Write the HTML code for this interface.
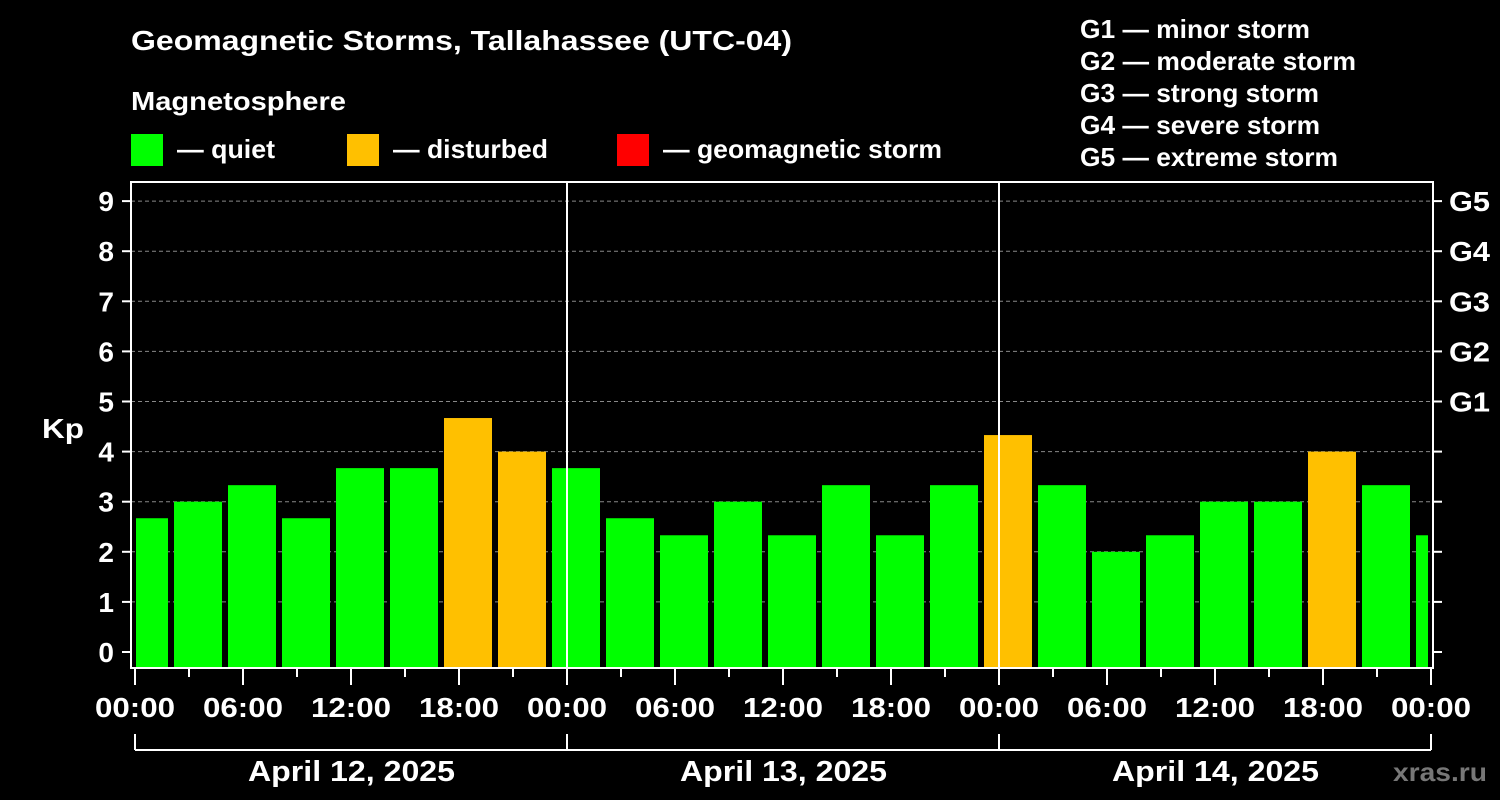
<!DOCTYPE html>
<html><head><meta charset="utf-8"><style>
body{margin:0;background:#000;}
svg{display:block;font-family:"Liberation Sans",Arial,sans-serif;font-weight:bold;}
</style></head><body>
<svg id="c" width="1500" height="800" xmlns="http://www.w3.org/2000/svg">
<rect width="1500" height="800" fill="#000"/>
<text x="131" y="50" fill="#fff" font-size="28" textLength="661" lengthAdjust="spacingAndGlyphs">Geomagnetic Storms, Tallahassee (UTC-04)</text>
<text x="131" y="110" fill="#fff" font-size="26" textLength="215" lengthAdjust="spacingAndGlyphs">Magnetosphere</text>
<g><rect x="131" y="134" width="32" height="32" fill="#00ff00"/><text x="177" y="158" fill="#fff" font-size="26" textLength="98" lengthAdjust="spacingAndGlyphs">— quiet</text></g>
<g><rect x="347" y="134" width="32" height="32" fill="#ffc000"/><text x="393" y="158" fill="#fff" font-size="26" textLength="155" lengthAdjust="spacingAndGlyphs">— disturbed</text></g>
<g><rect x="617" y="134" width="32" height="32" fill="#ff0000"/><text x="663" y="158" fill="#fff" font-size="26" textLength="279" lengthAdjust="spacingAndGlyphs">— geomagnetic storm</text></g>
<g fill="#fff" font-size="26">
<text x="1080" y="38" textLength="230" lengthAdjust="spacingAndGlyphs">G1 — minor storm</text>
<text x="1080" y="70" textLength="276" lengthAdjust="spacingAndGlyphs">G2 — moderate storm</text>
<text x="1080" y="102" textLength="239" lengthAdjust="spacingAndGlyphs">G3 — strong storm</text>
<text x="1080" y="134" textLength="240" lengthAdjust="spacingAndGlyphs">G4 — severe storm</text>
<text x="1080" y="166" textLength="258" lengthAdjust="spacingAndGlyphs">G5 — extreme storm</text>
</g>
<text x="42" y="438" fill="#fff" font-size="28" textLength="42" lengthAdjust="spacingAndGlyphs">Kp</text>
<text x="1393" y="781" fill="#777" font-size="26" textLength="94" lengthAdjust="spacingAndGlyphs">xras.ru</text>
<defs><clipPath id="pc"><rect x="136" y="182" width="1292" height="486"/></clipPath></defs>
<g id="grid"></g>
<g id="bars" clip-path="url(#pc)"></g>
<g id="axes"></g>
</svg>
<script>
const kpValues=[2.67,3.0,3.33,2.67,3.67,3.67,4.67,4.0,3.67,2.67,2.33,3.0,2.33,3.33,2.33,3.33,4.33,3.33,2.0,2.33,3.0,3.0,4.0,3.33,2.33];
const yTicks=[0,1,2,3,4,5,6,7,8,9];
const gLabels=["G1","G2","G3","G4","G5"];
const xTickLabels=["00:00","06:00","12:00","18:00","00:00","06:00","12:00","18:00","00:00","06:00","12:00","18:00","00:00"];
const dayLabels=["April 12, 2025","April 13, 2025","April 14, 2025"];
const NS="http://www.w3.org/2000/svg";
const X0=135,PXH=18,Y0=652,PXK=50.1,LEFT=131,RIGHT=1433,TOP=182,BOT=668;
const xs=h=>X0+h*PXH, ys=k=>Y0-k*PXK;
function mk(tag,attrs,parent){const e=document.createElementNS(NS,tag);for(const k in attrs)e.setAttribute(k,attrs[k]);document.getElementById(parent).appendChild(e);return e;}
yTicks.forEach(v=>{
 if(v>0){const l=mk('line',{x1:LEFT,x2:RIGHT,y1:ys(v),y2:ys(v),stroke:'#888','stroke-dasharray':'4,3','stroke-width':1},'grid');
 
 }
 const t=mk('text',{x:114,y:ys(v)+10,fill:'#fff','font-size':28,'text-anchor':'end'},'axes');t.textContent=v;
 
 
 mk('line',{x1:122,x2:LEFT,y1:ys(v),y2:ys(v),stroke:'#fff','stroke-width':2},'axes');
 mk('line',{x1:RIGHT,x2:1442,y1:ys(v),y2:ys(v),stroke:'#fff','stroke-width':2},'axes');
});
gLabels.forEach((g,i)=>{const t=mk('text',{x:1449,y:ys(5+i)+10,fill:'#fff','font-size':28,textLength:41,lengthAdjust:'spacingAndGlyphs'},'axes');t.textContent=g;
 
 });
kpValues.forEach((v,i)=>{
 const cx=xs(i*3+0.5);
 const r=mk('rect',{x:cx-24,y:ys(v),width:48,height:667-ys(v),fill:v>=5?'#ff0000':(v>=4?'#ffc000':'#00ff00')},'bars');
 
 
});
[1,2].forEach(d=>mk('line',{x1:xs(d*24),x2:xs(d*24),y1:TOP,y2:BOT,stroke:'#fff','stroke-width':2},'axes'));
mk('rect',{x:LEFT,y:TOP,width:RIGHT-LEFT,height:BOT-TOP,fill:'none',stroke:'#fff','stroke-width':2},'axes');
for(let h=0;h<=72;h+=3){const major=h%6===0;mk('line',{x1:xs(h),x2:xs(h),y1:BOT,y2:major?685:677,stroke:'#fff','stroke-width':2},'axes');}
xTickLabels.forEach((s,i)=>{const t=mk('text',{x:xs(i*6)-40,y:717,fill:'#fff','font-size':28,textLength:80,lengthAdjust:'spacingAndGlyphs'},'axes');t.textContent=s;
 
 });
mk('line',{x1:xs(0),x2:xs(72),y1:750,y2:750,stroke:'#fff','stroke-width':2},'axes');
for(let d=0;d<=3;d++)mk('line',{x1:xs(d*24),x2:xs(d*24),y1:734,y2:750,stroke:'#fff','stroke-width':2},'axes');
dayLabels.forEach((s,i)=>{const t=mk('text',{x:xs(i*24+12)-103,y:781,fill:'#fff','font-size':29,textLength:207,lengthAdjust:'spacingAndGlyphs'},'axes');t.textContent=s;
 
 });
</script>
</body></html>
